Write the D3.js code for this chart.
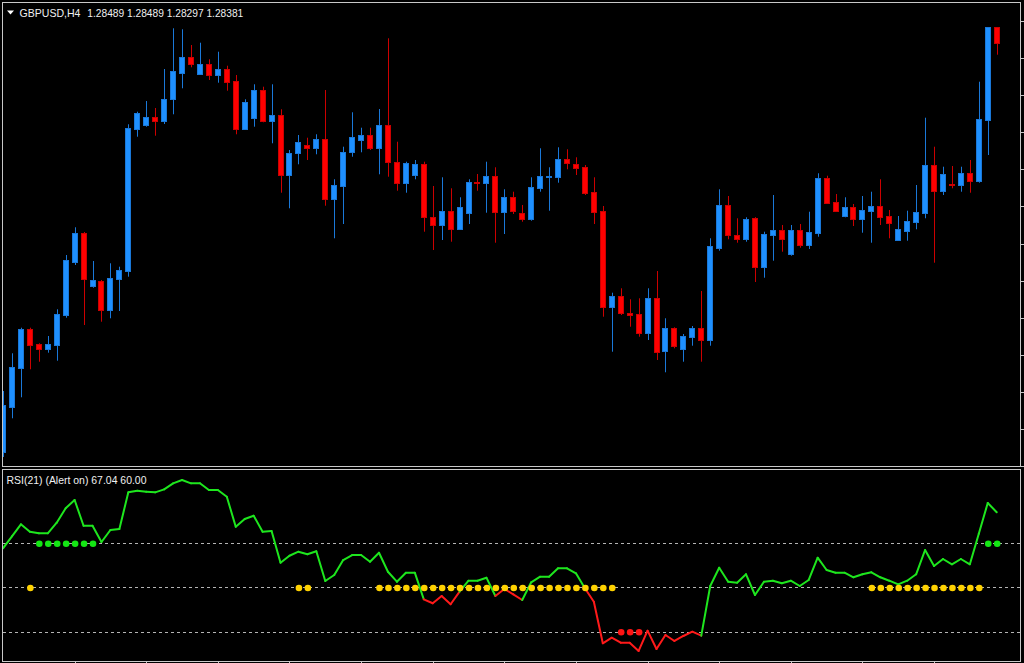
<!DOCTYPE html>
<html>
<head>
<meta charset="utf-8">
<script src="https://cdn.jsdelivr.net/npm/d3@7"></script>
<style>
html,body{margin:0;padding:0;background:#000;overflow:hidden;}
svg{display:block;}
</style>
</head>
<body>
<script>
// ---------- DATA ----------
const symbolName = "GBPUSD,H4";
const symbolPrices = "1.28489 1.28489 1.28297 1.28381";
const rsiTitle = "RSI(21) (Alert on) 67.04 60.00";

const open = [1.25516,1.25833,1.26106,1.26375,1.26272,1.26235,1.26265,1.26475,1.26844,1.27047,
1.26680,1.26713,1.26510,1.26727,1.26783,1.27777,1.27805,1.27863,1.27833,1.27985,
1.28171,1.28283,1.28162,1.28230,1.28155,1.28197,1.28113,1.27777,1.27856,1.28050,
1.27833,1.27875,1.27455,1.27607,1.27665,1.27646,1.27705,1.27287,1.27380,1.27614,
1.27700,1.27735,1.27646,1.27805,1.27548,1.27401,1.27455,1.27532,1.27163,1.27105,
1.27203,1.27075,1.27187,1.27406,1.27397,1.27448,1.27198,1.27299,1.27187,1.27145,
1.27362,1.27439,1.27443,1.27565,1.27532,1.27509,1.27338,1.27205,1.26533,1.26608,
1.26487,1.26482,1.26347,1.26592,1.26223,1.26382,1.26237,1.26323,1.26382,1.26300,
1.26946,1.27245,1.27035,1.27005,1.27152,1.26813,1.27035,1.27070,1.26900,1.27070,
1.26965,1.27051,1.27432,1.27268,1.27168,1.27229,1.27145,1.27205,1.27238,1.27168,
1.27000,1.27065,1.27128,1.27191,1.27525,1.27345,1.27392,1.27385,1.27467,1.27413,
1.27840,1.28489];
const high = [1.25943,1.26207,1.26386,1.26386,1.26277,1.26328,1.26515,1.26895,1.27089,1.27056,
1.26853,1.26720,1.26837,1.26813,1.27810,1.27898,1.27973,1.27924,1.28197,1.28482,
1.28475,1.28365,1.28381,1.28265,1.28318,1.28220,1.28155,1.27985,1.28090,1.28073,
1.28090,1.27915,1.27630,1.27735,1.27716,1.27740,1.28050,1.27425,1.27653,1.27894,
1.27786,1.27786,1.27917,1.28412,1.27688,1.27548,1.27560,1.27548,1.27378,1.27439,
1.27362,1.27299,1.27425,1.27462,1.27548,1.27509,1.27355,1.27338,1.27245,1.27439,
1.27642,1.27509,1.27649,1.27635,1.27579,1.27525,1.27439,1.27238,1.26631,1.26662,
1.26585,1.26592,1.26662,1.26783,1.26452,1.26389,1.26342,1.26398,1.26643,1.27012,
1.27355,1.27308,1.27152,1.27159,1.27160,1.27058,1.27315,1.27105,1.27105,1.27112,
1.27198,1.27467,1.27450,1.27322,1.27299,1.27252,1.27308,1.27338,1.27425,1.27210,
1.27168,1.27205,1.27385,1.27856,1.27653,1.27513,1.27518,1.27513,1.27560,1.28108,
1.28489,1.28489];
const low = [1.25481,1.25752,1.25899,1.26095,1.26148,1.26211,1.26155,1.26456,1.26825,1.26405,
1.26666,1.26428,1.26452,1.26503,1.26743,1.27723,1.27793,1.27730,1.27812,1.27880,
1.28062,1.28209,1.28162,1.28120,1.28101,1.28045,1.27740,1.27770,1.27793,1.27824,
1.27677,1.27331,1.27222,1.27530,1.27560,1.27600,1.27240,1.27012,1.27112,1.27583,
1.27614,1.27630,1.27460,1.27443,1.27345,1.27331,1.27425,1.27058,1.26930,1.27000,
1.26988,1.27075,1.27112,1.27345,1.27191,1.26981,1.27042,1.27182,1.27128,1.27135,
1.27338,1.27205,1.27401,1.27495,1.27455,1.27315,1.27112,1.26463,1.26218,1.26475,
1.26393,1.26323,1.26300,1.26160,1.26074,1.26242,1.26148,1.26260,1.26148,1.26260,
1.26925,1.27005,1.26981,1.26988,1.26706,1.26736,1.26855,1.26918,1.26890,1.26946,
1.26937,1.27023,1.27252,1.27205,1.27159,1.27098,1.27051,1.26981,1.27105,1.27012,
1.26995,1.26995,1.27075,1.27152,1.26841,1.27315,1.27362,1.27338,1.27331,1.27401,
1.27595,1.28297];
const close = [1.25845,1.26109,1.26375,1.26265,1.26235,1.26272,1.26484,1.26860,1.27047,1.26727,
1.26720,1.26510,1.26736,1.26790,1.27782,1.27887,1.27863,1.27833,1.27987,1.28183,
1.28283,1.28232,1.28230,1.28155,1.28197,1.28108,1.27777,1.27964,1.28050,1.27833,
1.27875,1.27455,1.27611,1.27688,1.27646,1.27705,1.27287,1.27385,1.27618,1.27719,
1.27735,1.27646,1.27805,1.27544,1.27401,1.27541,1.27532,1.27159,1.27105,1.27203,
1.27075,1.27233,1.27406,1.27397,1.27448,1.27198,1.27299,1.27205,1.27145,1.27369,
1.27448,1.27448,1.27565,1.27541,1.27506,1.27331,1.27198,1.26533,1.26608,1.26487,
1.26477,1.26347,1.26592,1.26214,1.26382,1.26260,1.26328,1.26382,1.26300,1.26958,
1.27245,1.27035,1.27005,1.27145,1.26813,1.27042,1.27070,1.27005,1.27070,1.26965,
1.27054,1.27432,1.27261,1.27205,1.27229,1.27145,1.27210,1.27238,1.27159,1.27121,
1.27075,1.27135,1.27198,1.27525,1.27345,1.27462,1.27385,1.27467,1.27415,1.27845,
1.28489,1.28381];

const rsi = [58.87,61.58,64.30,62.62,62.26,62.26,64.66,67.92,69.79,63.98,
63.98,60.29,63.01,63.23,71.53,71.90,71.67,71.53,72.21,73.57,
74.32,73.57,73.57,72.06,72.06,70.54,63.75,65.50,66.24,62.62,
62.78,55.61,57.19,58.10,57.51,58.19,51.47,52.83,56.22,57.35,
57.35,55.84,57.87,53.57,51.31,53.35,53.35,47.33,46.43,48.08,
46.20,49.05,51.54,51.54,52.22,48.08,49.66,48.46,47.17,51.18,
52.44,52.44,54.34,54.34,53.21,49.82,46.79,37.38,38.64,37.51,
37.51,35.64,40.23,36.09,39.26,37.90,39.03,40.00,39.10,50.34,
54.48,51.31,51.09,52.99,48.30,51.31,51.54,50.95,51.54,50.34,
51.70,56.74,53.96,53.35,53.35,52.31,52.99,53.44,52.31,51.54,
50.72,51.54,52.99,58.48,54.86,56.45,55.25,56.45,55.25,62.17,
69.11,67.04];

const rsiLevels = [60, 50, 40];
// bar indices of alert dots drawn on each level
const dotsHigh = [4,5,6,7,8,9,10,110,111];           // on 60
const dotsMid  = [3,33,34,42,43,44,45,46,47,48,49,50,51,52,53,54,55,56,57,58,59,60,61,62,63,64,65,66,67,68,
                  97,98,99,100,101,102,103,104,105,106,107,108,109]; // on 50
const dotsLow  = [69,70,71];                          // on 40

const priceTicks = [1.28535,1.28275,1.28015,1.27755,1.27495,1.27235,1.26975,1.26715,1.26455,1.26195,1.25935,1.25675,1.25415];
const timeTicks = [8,16,24,32,40,48,56,64,72,80,88,96,104];

// ---------- LAYOUT ----------
const W = 1024, H = 663;
const mainTop = 2.5, mainBot = 466.5, rsiTop = 469.5, rsiBot = 661.5, leftX = 2.5, rightX = 1020.5;
const borderCol = "#c8c8c8";
const upFill = "#1e90ff", upLine = "#1a78d8", dnFill = "#ff0000", dnLine = "#cc0000";
const green = "#1ee61e", red = "#ff1a1a";

const svg = d3.select("body").append("svg").attr("width", W).attr("height", H)
  .style("background", "#000");

const defs = svg.append("defs");
defs.append("clipPath").attr("id","clipMain").append("rect")
  .attr("x", 3).attr("y", 3).attr("width", rightX - 3).attr("height", mainBot - 3);
defs.append("clipPath").attr("id","clipRsi").append("rect")
  .attr("x", 3).attr("y", rsiTop + 0.5).attr("width", rightX - 3).attr("height", rsiBot - rsiTop - 1);

const idx = open.map((d, i) => i);
const x = d3.scaleLinear().domain([0, 111]).range([3, 996.7]);
const y = d3.scaleLinear().domain([1.25418, 1.2868]).range([466, 0]);
const yr = d3.scaleLinear().domain([33.37, 76.81]).range([661, 469]);

// ---------- MAIN PANEL ----------
const gMain = svg.append("g").attr("clip-path", "url(#clipMain)");
const cx = i => Math.round(x(i));

gMain.selectAll("line.wick").data(idx).join("line")
  .attr("class","wick")
  .attr("x1", i => cx(i) + 0.5).attr("x2", i => cx(i) + 0.5)
  .attr("y1", i => y(high[i])).attr("y2", i => y(low[i]))
  .attr("stroke", i => close[i] >= open[i] ? upLine : dnLine)
  .attr("stroke-width", 1);

gMain.selectAll("rect.body").data(idx).join("rect")
  .attr("class","body")
  .attr("x", i => cx(i) - 2.5)
  .attr("width", 5)
  .attr("y", i => Math.round(y(Math.max(open[i], close[i]))) + 0.5)
  .attr("height", i => Math.max(1, Math.round(y(Math.min(open[i], close[i]))) - Math.round(y(Math.max(open[i], close[i])))))
  .attr("fill", i => close[i] >= open[i] ? upFill : dnFill)
  .attr("stroke", i => close[i] >= open[i] ? upLine : dnLine)
  .attr("stroke-width", 1);

// title
svg.append("path").attr("d", "M7,10.5 L14,10.5 L10.5,14.5 Z").attr("fill", "#ffffff");
svg.append("text").attr("x", 19.5).attr("y", 16.5)
  .attr("textLength", 61).attr("lengthAdjust", "spacingAndGlyphs")
  .attr("font-family", "Liberation Sans, Arial, sans-serif").attr("font-size", 11)
  .attr("fill", "#f0f0f0").text(symbolName);
svg.append("text").attr("x", 87.3).attr("y", 16.5)
  .attr("textLength", 156).attr("lengthAdjust", "spacingAndGlyphs")
  .attr("font-family", "Liberation Sans, Arial, sans-serif").attr("font-size", 11)
  .attr("fill", "#f0f0f0").text(symbolPrices);

// price axis ticks (labels fall outside the visible window)
svg.append("g").attr("transform", `translate(${rightX},0)`)
  .call(d3.axisRight(y).tickValues(priceTicks).tickSize(4).tickFormat(""))
  .call(g => g.select(".domain").remove())
  .call(g => g.selectAll("line").attr("stroke", borderCol).attr("shape-rendering","crispEdges"));

// ---------- RSI PANEL ----------
const gRsi = svg.append("g").attr("clip-path", "url(#clipRsi)");
gRsi.selectAll("line.level").data(rsiLevels).join("line")
  .attr("class","level")
  .attr("x1", 3).attr("x2", rightX)
  .attr("y1", d => Math.round(yr(d)) + 0.5).attr("y2", d => Math.round(yr(d)) + 0.5)
  .attr("stroke", "#b4b4b4").attr("stroke-width", 1).attr("stroke-dasharray", "3,3");

const segs = idx.slice(1);
gRsi.selectAll("line.rsi").data(segs).join("line")
  .attr("class","rsi")
  .attr("x1", i => x(i - 1)).attr("y1", i => yr(rsi[i - 1]))
  .attr("x2", i => x(i)).attr("y2", i => yr(rsi[i]))
  .attr("stroke", i => (rsi[i - 1] < 50 && rsi[i] < 50) ? red : green)
  .attr("stroke-width", 2).attr("stroke-linecap", "round");

function dots(list, level, color) {
  gRsi.append("g").selectAll("circle").data(list).join("circle")
    .attr("cx", i => x(i) + 0.5).attr("cy", yr(level) + 0.5).attr("r", 3.3)
    .attr("fill", color);
}
dots(dotsHigh, 60, "#14e614");
dots(dotsMid, 50, "#ffd200");
dots(dotsLow, 40, "#ff1414");

svg.append("text").attr("x", 6.5).attr("y", 483.5)
  .attr("textLength", 140).attr("lengthAdjust", "spacingAndGlyphs")
  .attr("font-family", "Liberation Sans, Arial, sans-serif").attr("font-size", 11)
  .attr("fill", "#f0f0f0").text(rsiTitle);

// time axis ticks
svg.append("g").attr("transform", `translate(0,${rsiBot})`)
  .call(d3.axisBottom(x).tickValues(timeTicks).tickSize(3).tickFormat(""))
  .call(g => g.select(".domain").remove())
  .call(g => g.selectAll("line").attr("stroke", borderCol))
  .call(g => g.selectAll(".tick").attr("transform", d => `translate(${Math.round(x(d)) + 0.5},0)`));

// ---------- BORDERS ----------
svg.append("rect").attr("x", leftX).attr("y", mainTop).attr("width", rightX - leftX).attr("height", mainBot - mainTop)
  .attr("fill", "none").attr("stroke", borderCol).attr("stroke-width", 1).attr("shape-rendering","crispEdges");
svg.append("rect").attr("x", leftX).attr("y", rsiTop).attr("width", rightX - leftX).attr("height", rsiBot - rsiTop)
  .attr("fill", "none").attr("stroke", borderCol).attr("stroke-width", 1).attr("shape-rendering","crispEdges");
</script>
</body>
</html>
